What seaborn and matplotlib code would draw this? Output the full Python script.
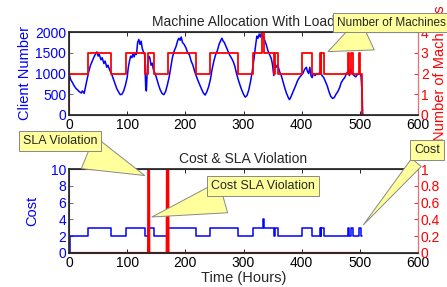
"""
Machine allocation with load / cost & SLA violation
"""
import matplotlib
matplotlib.use('Agg')
import matplotlib.pyplot as plt
import seaborn as sns

# ── Datos ─────────────────────────────────────────────────────────────────────
load_t = [0, 3, 6, 9, 12, 15, 18, 21, 23, 26, 28, 31, 34, 37, 40, 43, 46, 48, 50, 52,
          55, 57, 60, 62, 65, 67, 70, 73, 76, 79, 82, 85, 88, 91, 94, 97, 100, 102, 104,
          106, 108, 110, 112, 114, 116, 118, 120, 122, 124, 126, 128, 130, 131, 132, 133,
          134, 135, 137, 139, 141, 143, 145, 148, 151, 154, 157, 160, 163, 166, 169, 172,
          175, 178, 181, 184, 187, 189, 191, 193, 195, 198, 201, 204, 207, 210, 213, 216,
          219, 222, 225, 228, 231, 234, 237, 240, 243, 246, 249, 252, 255, 258, 261, 263,
          265, 267, 270, 273, 276, 279, 282, 285, 288, 291, 294, 297, 300, 303, 306, 309,
          312, 315, 318, 321, 323, 325, 327, 329, 331, 333, 335, 337, 339, 342, 345, 348,
          350, 352, 354, 356, 359, 362, 365, 368, 371, 374, 377, 379, 381, 384, 387, 390,
          393, 396, 399, 402, 405, 408, 410, 412, 414, 416, 418, 420, 423, 426, 429, 432,
          435, 438, 441, 444, 447, 450, 453, 456, 459, 462, 465, 468, 471, 474, 477, 480,
          482, 484, 487, 490, 493, 496, 499, 502, 504, 505]
load_v = [1000, 850, 780, 700, 640, 600, 560, 530, 580, 520, 650, 850, 1050, 1200, 1300,
          1400, 1480, 1520, 1420, 1460, 1330, 1380, 1240, 1300, 1150, 1200, 1080, 1000, 880,
          760, 640, 560, 490, 500, 580, 720, 900, 1150, 1300, 1420, 1380, 1470, 1400, 1500,
          1460, 1750, 1820, 1700, 1780, 1600, 1520, 1450, 1000, 620, 580, 900, 1200, 1420,
          1380, 1200, 1250, 1100, 1000, 870, 720, 600, 520, 490, 560, 720, 900, 1150, 1400,
          1550, 1650, 1800, 1850, 1800, 1880, 1750, 1700, 1620, 1500, 1450, 1300, 1200, 1050,
          930, 820, 720, 620, 530, 480, 560, 680, 850, 1100, 1300, 1450, 1550, 1700, 1800,
          1850, 1780, 1750, 1650, 1550, 1450, 1380, 1300, 1180, 1000, 850, 720, 600, 500, 430,
          470, 600, 800, 1050, 1350, 1700, 1900, 1850, 1950, 1880, 1980, 1900, 1850, 1780,
          1700, 1550, 1450, 1350, 1200, 950, 1250, 1150, 1200, 1050, 950, 800, 650, 520, 420,
          370, 420, 520, 620, 720, 830, 900, 950, 1000, 1100, 1150, 1050, 1000, 1150, 950, 900,
          1000, 950, 1000, 980, 1050, 950, 900, 800, 700, 560, 450, 400, 420, 500, 560, 650,
          780, 850, 900, 1000, 1050, 950, 1100, 1000, 950, 920, 980, 1000, 950, 500, 0]

machine_t = [0, 0.5, 32, 73, 98, 130, 136, 146, 171, 218, 243, 290, 316, 331, 335, 352,
             354, 359, 400, 418, 431, 433, 434, 438, 480, 482, 484, 489, 499, 501, 504.5, 505]
machine_n = [0, 2, 3, 2, 3, 2, 3, 2, 3, 2, 3, 2, 3, 4, 3, 2,
             3, 2, 3, 2, 3, 2, 3, 2, 3, 2, 3, 2, 3, 2, 0, 0]

cost_t = [0, 2, 32, 73, 98, 130, 136, 146, 171, 218, 243, 290, 316, 334, 336, 352,
          354, 359, 400, 418, 431, 433, 434, 438, 480, 482, 484, 489, 499, 502, 503]
cost_v = [0, 2, 3, 2, 3, 2, 3, 2, 3, 2, 3, 2, 3, 4, 3, 2,
          3, 2, 3, 2, 3, 2, 3, 2, 3, 2, 3, 2, 3, 2, 2]

sla_t = [0, 136, 136.5, 137.5, 138, 168, 168.5, 170.5, 171, 503]
sla_v = [0, 0, 1, 1, 0, 0, 1, 1, 0, 0]

BLUE = '#0000ff'
RED = '#ff0000'
YELLOW = '#ffff9c'

sns.set_theme(style='white')
plt.rcParams['font.family'] = ['Liberation Sans', 'DejaVu Sans']

fig = plt.figure(figsize=(4.47, 2.87), dpi=100)


def W(px):
    return px / 447


def H(py):
    return 1 - py / 287


def style_axes(ax, ax2, lcolor):
    for s in ax.spines.values():
        s.set_color('#555555')
        s.set_linewidth(0.8)
    ax2.spines['right'].set_color('#f07070')
    ax2.spines['right'].set_linewidth(0.8)
    ax.tick_params(axis='x', direction='in', top=True, bottom=True, length=3,
                   labelsize=10, colors='black', pad=2, width=0.6)
    ax.tick_params(axis='y', direction='in', left=True, right=False, length=3,
                   labelsize=10, labelcolor=lcolor, color='#555555', pad=2, width=0.6)
    ax2.tick_params(axis='y', direction='in', right=True, length=3, labelsize=10,
                    labelcolor=RED, color=RED, pad=2, width=0.6)


def callout(ax, text, xy, xytext, tail, ha='center', size=9):
    ax.annotate(text, xy=xy, xytext=xytext, textcoords='figure fraction',
                ha=ha, va='center', fontsize=size, zorder=10, annotation_clip=False,
                bbox=dict(boxstyle='square,pad=0.32', fc=YELLOW, ec='#888888', lw=0.7),
                arrowprops=dict(arrowstyle=f'wedge,tail_width={tail},shrink_factor=0.5',
                                fc=YELLOW, ec='#888888', lw=0.7))


# ── Panel superior ────────────────────────────────────────────────────────────
ax1 = fig.add_axes([W(69), H(115), W(349), H(32) - H(115)])
ax1b = ax1.twinx()
sns.lineplot(x=load_t, y=load_v, ax=ax1, color=BLUE, lw=1.1, estimator=None, sort=False)
sns.lineplot(x=machine_t, y=machine_n, ax=ax1b, color=RED, lw=1.3, estimator=None,
             sort=False, drawstyle='steps-post')
ax1.set_xlim(0, 600)
ax1.set_ylim(0, 2000)
ax1.set_xticks(range(0, 601, 100))
ax1.set_yticks([0, 500, 1000, 1500, 2000])
ax1b.set_ylim(0, 4)
ax1b.set_yticks([0, 1, 2, 3, 4])
ax1b.set_yticklabels(['0', '1', '2', '3', '4'])
ax1.set_ylabel('Client Number', color=BLUE, fontsize=10.5, labelpad=2)
ax1b.set_ylabel('Number of Machines', color=RED, fontsize=10.5, labelpad=3)
ax1.set_title('Machine Allocation With Load', fontsize=10, pad=4)
style_axes(ax1, ax1b, BLUE)

callout(ax1b, 'Number of Machines', (441, 3.0), (W(337), H(22.5)), 3.0, ha='left', size=8.5)

# ── Panel inferior ────────────────────────────────────────────────────────────
ax2 = fig.add_axes([W(69), H(253), W(349), H(169) - H(253)])
ax2b = ax2.twinx()
sns.lineplot(x=cost_t, y=cost_v, ax=ax2, color=BLUE, lw=1.1, estimator=None,
             sort=False, drawstyle='steps-post')
sns.lineplot(x=sla_t, y=sla_v, ax=ax2b, color=RED, lw=1.6, estimator=None, sort=False)
ax2.set_xlim(0, 600)
ax2.set_ylim(0, 10)
ax2.set_xticks(range(0, 601, 100))
ax2.set_yticks(range(0, 11, 2))
ax2b.set_ylim(0, 1)
ax2b.set_yticks([0, 0.2, 0.4, 0.6, 0.8, 1])
ax2b.set_yticklabels(['0', '0.2', '0.4', '0.6', '0.8', '1'])
ax2.set_ylabel('Cost', color=BLUE, fontsize=10.5, labelpad=8)
ax2b.set_ylabel('SLA Violation', color=RED, fontsize=10.5, labelpad=6)
ax2.set_xlabel('Time (Hours)', fontsize=10.5, labelpad=1)
ax2.set_title('Cost & SLA Violation', fontsize=10, pad=4)
style_axes(ax2, ax2b, BLUE)

callout(ax2b, 'SLA Violation', (134.5, 0.91), (W(60), H(141)), 2.8)
callout(ax2b, 'Cost SLA Violation', (138, 0.42), (W(263), H(186)), 2.6)
callout(ax2b, 'Cost', (503, 0.31), (W(427), H(150)), 1.0)

fig.savefig('out.png', dpi=100)
